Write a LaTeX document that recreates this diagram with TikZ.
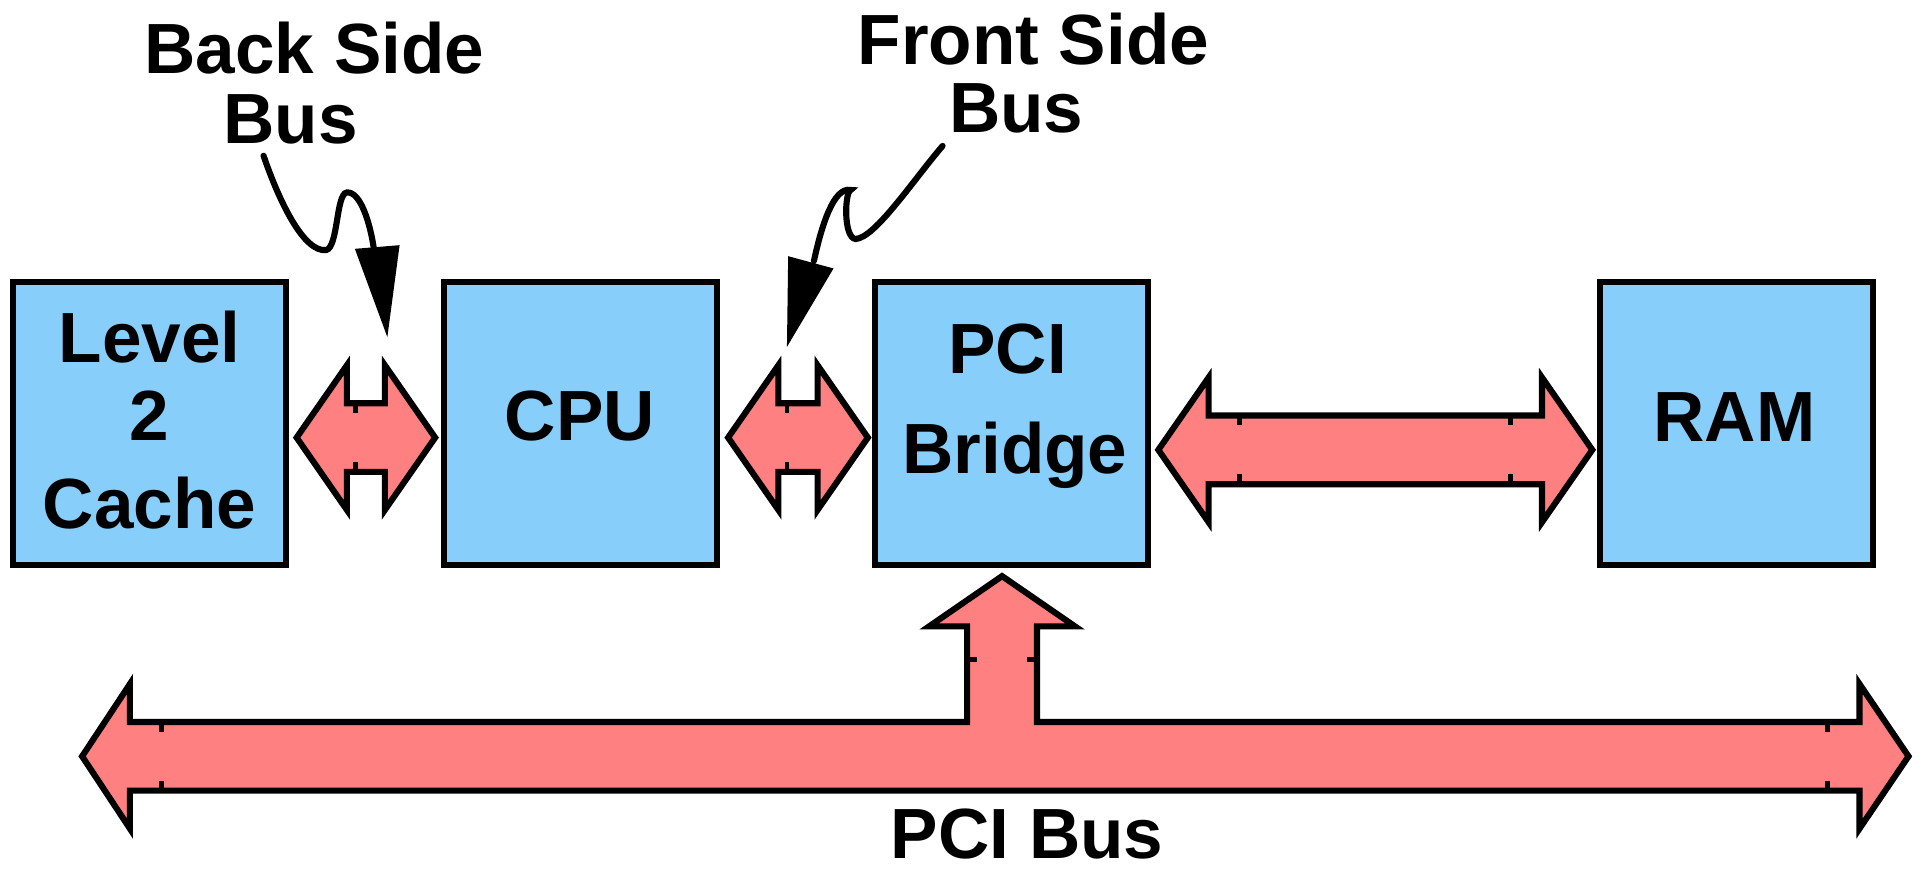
\documentclass[tikz,border=0pt]{standalone}
\usepackage{fontspec}
\setmainfont{Liberation Sans}
\definecolor{boxblue}{RGB}{135,206,250}
\definecolor{buspink}{RGB}{255,128,128}
\begin{document}
\begin{tikzpicture}[x=1pt,y=-1pt,
  box/.style={draw=black,line width=5pt,fill=boxblue,inner sep=0pt,minimum width=222.5pt,minimum height=231pt},
  bus/.style={draw=black,line width=5pt,fill=buspink,line join=miter,miter limit=20},
  tickmark/.style={line width=4pt},
  lbl/.style={font=\fontsize{58}{58}\selectfont\bfseries,inner sep=0pt,anchor=base},
  pointer/.style={line width=5pt,line cap=round},
  ptip/.style={fill=black}]
\useasboundingbox (0,0) rectangle (1568,713);

% boxes
\node[box] (l2)  at (121.75,345.5) {};
\node[box] (cpu) at (473.75,345.5) {};
\node[box] (pci) at (825.25,345.5) {};
\node[box] (ram) at (1416.75,345.5) {};

% box texts
\node[lbl] (l2a) at (122,296) {Level};
\node[lbl] (l2b) at (122,359) {2};
\node[lbl] (l2c) at (122,431) {Cache};
\node[lbl] (cput) at (473,359) {CPU};
\node[lbl] (pcia) at (822,305) {PCI};
\node[lbl] (pcib) at (828,386) {Bridge};
\node[lbl] (ramt) at (1415,360) {RAM};

% labels
\node[lbl] (bsa) at (256.5,60) {Back Side};
\node[lbl] (bsb) at (237,117) {Bus};
\node[lbl] (fsa) at (843,53) {Front Side};
\node[lbl] (fsb) at (829,108) {Bus};
\node[lbl] (pcibus) at (838,700) {PCI Bus};

% back side bus
\draw[bus] (242,357) -- (283,298) -- (283,329) -- (314,329) -- (314,298) -- (355,357)
  -- (314,416) -- (314,385) -- (283,385) -- (283,416) -- cycle;
\draw[tickmark] (290,329) -- (290,337) (290,385) -- (290,377);

% front side bus
\draw[bus] (594,357) -- (635,298) -- (635,329) -- (667,329) -- (667,298) -- (708,357)
  -- (667,416) -- (667,385) -- (635,385) -- (635,416) -- cycle;
\draw[tickmark] (642,329) -- (642,337) (642,385) -- (642,377);

% memory bus
\draw[bus] (945,367) -- (986,308) -- (986,339) -- (1258,339) -- (1258,308) -- (1299,367)
  -- (1258,426) -- (1258,395) -- (986,395) -- (986,426) -- cycle;
\draw[tickmark] (1011,339) -- (1011,347) (1011,395) -- (1011,387)
                (1232,339) -- (1232,347) (1232,395) -- (1232,387);

% PCI bus with branch to bridge
\draw[bus] (67,617) -- (106,558) -- (106,589) -- (789,589) -- (789,511) -- (758,511)
  -- (817.5,470) -- (877,511) -- (846,511) -- (846,589) -- (1517,589) -- (1517,558)
  -- (1557,617) -- (1517,676) -- (1517,645) -- (106,645) -- (106,676) -- cycle;
\draw[tickmark] (132,589) -- (132,597) (132,645) -- (132,637)
                (1491,589) -- (1491,597) (1491,645) -- (1491,637)
                (789,538) -- (797,538) (846,538) -- (838,538);

% pointers
\coordinate (bsp) at (215,127);
\coordinate (bsh) at (305,203);
\draw[pointer] (bsp) .. controls (228,165) and (248,206) .. (266,204)
  .. controls (276,202) and (274,158) .. (283,157)
  .. controls (294,156) and (302,182) .. (bsh);
\fill[ptip] (289.5,203) -- (326,200) -- (316,275) -- cycle;

\coordinate (fsp) at (769,119);
\coordinate (fsh) at (664,213);
\draw[pointer] (fsp) .. controls (745,147) and (714,194) .. (698,195)
  .. controls (688,194) and (689,157) .. (694,155)
  .. controls (680,152) and (670,185) .. (fsh);
\fill[ptip] (643,209) -- (680,219) -- (642,283) -- cycle;
\end{tikzpicture}
\end{document}
